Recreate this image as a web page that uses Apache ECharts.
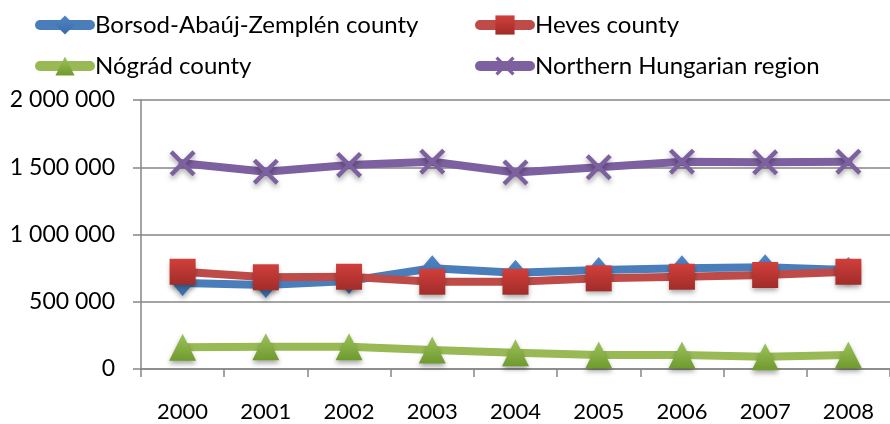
<!DOCTYPE html>
<html>
<head>
<meta charset="utf-8">
<script src="https://cdn.jsdelivr.net/npm/echarts@6/dist/echarts.min.js"></script>
<style>html,body{margin:0;padding:0;background:#fff}#c{width:890px;height:424px}</style>
</head>
<body>
<div id="c"></div>
<script>
const years = ['2000','2001','2002','2003','2004','2005','2006','2007','2008'];
const borsod = [640000, 625000, 655000, 749000, 715000, 736000, 749000, 756000, 736000];
const heves = [723000, 682000, 686000, 649000, 649000, 674000, 686000, 699000, 723000];
const nograd = [161000, 166000, 166000, 141000, 120000, 104000, 104000, 91000, 104000];
const northern = [1529000, 1467000, 1517000, 1541000, 1461000, 1500000, 1541000, 1537000, 1541000];
const yTicks = [0, 500000, 1000000, 1500000, 2000000];

const FONT = 'Lato';
const crossPath = 'path://M0,1.2 L1.2,0 L5,3.8 L8.8,0 L10,1.2 L6.2,5 L10,8.8 L8.8,10 L5,6.2 L1.2,10 L0,8.8 L3.8,5 Z';
function grad(top, bottom) {
  return new echarts.graphic.LinearGradient(0, 0, 0, 1, [{offset: 0, color: top}, {offset: 1, color: bottom}]);
}
const shadow = {shadowBlur: 5, shadowColor: 'rgba(0,0,0,0.35)', shadowOffsetY: 3};
function mk(name, data, color, symbol, size, fill) {
  return {
    name, type: 'line', data,
    symbol, symbolSize: size,
    lineStyle: {color, width: 8, cap: 'round', join: 'round'},
    itemStyle: Object.assign({color: fill, borderWidth: 0}, shadow),
    emphasis: {disabled: true},
    animation: false
  };
}
const chart = echarts.init(document.getElementById('c'), null, {renderer: 'canvas'});
const legendCommon = {
  orient: 'vertical', itemWidth: 50, itemHeight: 24, itemGap: 17,
  textStyle: {fontFamily: FONT, fontSize: 24, color: '#000'},
  lineStyle: {width: 10, cap: 'round'},
  itemStyle: {shadowBlur: 0, shadowOffsetY: 0},
  selectedMode: false
};
chart.setOption({
  backgroundColor: '#fff',
  legend: [
    Object.assign({}, legendCommon, {data: ['Borsod-Abaúj-Zemplén county', 'Nógrád county'], left: 30, top: 8}),
    Object.assign({}, legendCommon, {data: ['Heves county', 'Northern Hungarian region'], left: 470, top: 8})
  ],
  grid: {left: 141, top: 100, width: 755, height: 269, containLabel: false},
  xAxis: {
    type: 'category', data: years, boundaryGap: true,
    axisLine: {lineStyle: {color: '#868686', width: 1.5}},
    axisTick: {show: true, length: 8, alignWithLabel: false, lineStyle: {color: '#868686', width: 1.5}},
    axisLabel: {fontFamily: FONT, fontSize: 22, color: '#000', margin: 32, interval: 0},
    splitLine: {show: false}
  },
  yAxis: {
    type: 'value', min: yTicks[0], max: yTicks[yTicks.length - 1], interval: 500000,
    axisLine: {show: true, lineStyle: {color: '#868686', width: 1.5}},
    axisTick: {show: true, length: 8, lineStyle: {color: '#868686', width: 1.5}},
    axisLabel: {fontFamily: FONT, fontSize: 23, color: '#000', margin: 26,
      formatter: v => String(v).replace(/\B(?=(\d{3})+(?!\d))/g, ' ')},
    splitLine: {show: true, lineStyle: {color: '#868686', width: 1.5}}
  },
  series: [
    mk('Borsod-Abaúj-Zemplén county', borsod, '#4a7ebb', 'diamond', [22, 26], grad('#4f86c6', '#3a6aa6')),
    mk('Heves county', heves, '#be4b48', 'rect', 26, grad('#d13f3b', '#a12c29')),
    mk('Nógrád county', nograd, '#98b954', 'triangle', 27, grad('#9cc35a', '#6f9a2e')),
    mk('Northern Hungarian region', northern, '#7d60a0', crossPath, 26, '#7d60a0')
  ]
});
</script>
</body>
</html>
